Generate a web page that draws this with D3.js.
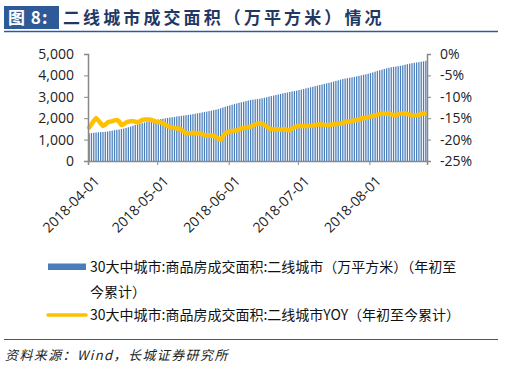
<!DOCTYPE html>
<html>
<head>
<meta charset="utf-8">
<script src="https://cdn.jsdelivr.net/npm/d3@7"></script>
<style>
  body { margin: 0; background: #fff; }
  svg { display: block; font-family: "Noto Sans CJK SC", "Noto Sans", sans-serif; }
  .axis text { font-family: "Open Sans", "Noto Sans", sans-serif; font-size: 14px; fill: #222; }
  .axis path, .axis line { stroke: #888; }
</style>
</head>
<body>
<div id="chart"></div>
<script>
var startDate = "2018-04-01";
var monthTicks = ["2018-04-01", "2018-05-01", "2018-06-01", "2018-07-01", "2018-08-01"];
var leftTicks = [0, 1000, 2000, 3000, 4000, 5000];
var rightTicks = [-25, -20, -15, -10, -5, 0];

// cumulative area since start of year, 10k sqm (one bar per day)
var area = [
  1290, 1305, 1320, 1330, 1340, 1350, 1355, 1365, 1380, 1400,
  1420, 1440, 1455, 1470, 1495, 1520, 1545, 1580, 1610, 1650,
  1690, 1715, 1740, 1770, 1800, 1830, 1855, 1880, 1900, 1920,
  1940, 1955, 1975, 1990, 2010, 2030, 2045, 2060, 2080, 2095,
  2110, 2125, 2140, 2155, 2170, 2190, 2210, 2230, 2250, 2270,
  2290, 2310, 2330, 2355, 2380, 2400, 2430, 2465, 2500, 2535,
  2570, 2600, 2630, 2660, 2690, 2720, 2745, 2770, 2800, 2825,
  2850, 2865, 2880, 2895, 2910, 2930, 2955, 2980, 3010, 3035,
  3060, 3085, 3110, 3135, 3160, 3180, 3200, 3225, 3250, 3270,
  3290, 3315, 3340, 3365, 3395, 3420, 3445, 3470, 3500, 3525,
  3550, 3575, 3600, 3630, 3655, 3680, 3710, 3740, 3770, 3800,
  3830, 3850, 3870, 3890, 3910, 3930, 3955, 3980, 4005, 4030,
  4050, 4080, 4110, 4140, 4175, 4210, 4240, 4270, 4300, 4330,
  4360, 4380, 4395, 4415, 4430, 4450, 4475, 4500, 4525, 4550,
  4570, 4590, 4605, 4620, 4640, 4660, 4680
];

// YOY, %
var yoy = [
  -17.2, -16.4, -15.6, -15.0, -15.5, -16.2, -16.8, -16.5, -16.0, -15.8,
  -15.7, -15.5, -15.4, -15.8, -16.6, -16.4, -16.0, -15.8, -15.7, -15.7,
  -15.8, -16.0, -15.7, -15.4, -15.3, -15.3, -15.3, -15.4, -15.6, -15.8,
  -15.9, -16.0, -16.2, -16.5, -16.8, -17.1, -17.2, -17.3, -17.4, -17.4,
  -17.7, -18.1, -18.5, -18.5, -18.5, -18.4, -18.5, -18.6, -18.5, -18.7,
  -19.0, -19.1, -19.0, -19.1, -19.1, -19.4, -19.8, -20.1, -19.3, -18.5,
  -18.3, -18.1, -18.0, -17.9, -17.9, -17.6, -17.4, -17.3, -17.2, -17.1,
  -17.0, -16.7, -16.5, -16.3, -16.2, -16.3, -16.6, -17.0, -17.4, -17.5,
  -17.6, -17.6, -17.6, -17.7, -17.5, -17.6, -17.8, -17.8, -17.4, -17.1,
  -16.9, -16.8, -16.8, -16.8, -16.8, -16.9, -16.8, -16.7, -16.6, -16.5,
  -16.4, -16.5, -16.6, -16.6, -16.6, -16.5, -16.4, -16.4, -16.3, -16.3,
  -16.1, -15.9, -15.8, -15.8, -15.7, -15.5, -15.4, -15.4, -15.0, -15.0,
  -14.9, -14.8, -14.6, -14.5, -14.4, -14.2, -14.0, -13.9, -13.9, -14.0,
  -13.9, -14.1, -14.3, -14.3, -14.1, -13.9, -13.9, -13.9, -14.0, -14.2,
  -14.3, -14.3, -14.3, -14.2, -14.0, -13.9, -13.9
];

var barName = "30大中城市:商品房成交面积:二线城市（万平方米）（年初至";
var barName2 = "今累计）";
var lineName = "30大中城市:商品房成交面积:二线城市YOY（年初至今累计）";

(function() {
  var width = 511, height = 372;
  var pad = { top: 54, bottom: 161, left: 88, right: 427 };
  var parse = d3.timeParse("%Y-%m-%d");
  var fmtDay = d3.timeFormat("%Y-%m-%d");

  var days = area.map(function(d, i) {
    return d3.timeDay.offset(parse(startDate), i);
  });

  var svg = d3.select("#chart").append("svg")
    .attr("width", width)
    .attr("height", height);

  // title
  svg.append("rect")
    .attr("x", 4).attr("y", 6).attr("width", 55).attr("height", 23)
    .attr("fill", "#2F5A98");
  svg.append("text")
    .attr("x", 8).attr("y", 24)
    .attr("fill", "#fff")
    .attr("font-size", 17).attr("font-weight", "bold")
    .attr("letter-spacing", 1)
    .text("图 8:");
  svg.append("text")
    .attr("x", 63).attr("y", 24)
    .attr("fill", "#1F3864")
    .attr("font-size", 17).attr("font-weight", "bold")
    .attr("letter-spacing", 3.1)
    .text("二线城市成交面积（万平方米）情况");
  svg.append("line")
    .attr("x1", 4).attr("x2", 498).attr("y1", 31.5).attr("y2", 31.5)
    .attr("stroke", "#2F5A98").attr("stroke-width", 1.5);

  var x = d3.scaleTime()
    .domain([days[0], d3.timeDay.offset(days[days.length - 1], 1)])
    .range([pad.left, pad.right]);
  var yL = d3.scaleLinear().domain([0, 5000]).range([pad.bottom, pad.top]);
  var yR = d3.scaleLinear().domain([-25, 0]).range([pad.bottom, pad.top]);

  var dayW = x(days[1]) - x(days[0]);

  svg.append("g")
    .selectAll("rect")
    .data(area)
    .enter().append("rect")
    .attr("x", function(d, i) { return x(days[i]) + dayW * 0.22; })
    .attr("y", function(d) { return yL(d); })
    .attr("width", dayW * 0.55)
    .attr("height", function(d) { return yL(0) - yL(d); })
    .attr("fill", "#4A7EBB");

  var line = d3.line()
    .x(function(d, i) { return x(days[i]) + dayW / 2; })
    .y(function(d) { return yR(d); })
    .curve(d3.curveLinear);
  svg.append("path")
    .datum(yoy)
    .attr("d", line)
    .attr("fill", "none")
    .attr("stroke", "#FFC000")
    .attr("stroke-width", 4.5)
    .attr("stroke-linejoin", "round")
    .attr("stroke-linecap", "round");

  // axes
  var gl = svg.append("g").attr("class", "axis")
    .attr("transform", "translate(" + pad.left + ",0)")
    .call(d3.axisLeft(yL).tickValues(leftTicks).tickSize(4).tickPadding(10)
      .tickFormat(d3.format(",")));
  var gr = svg.append("g").attr("class", "axis")
    .attr("transform", "translate(" + pad.right + ",0)")
    .call(d3.axisRight(yR).tickValues(rightTicks).tickSize(4).tickPadding(9)
      .tickFormat(function(d) { return d + "%"; }));
  var gx = svg.append("g").attr("class", "axis")
    .attr("transform", "translate(0," + pad.bottom + ")")
    .call(d3.axisBottom(x).tickValues(monthTicks.map(parse)).tickSize(4)
      .tickFormat(fmtDay));
  gx.selectAll("text")
    .attr("font-size", 14)
    .attr("text-anchor", "end")
    .attr("dy", 0)
    .attr("transform", "translate(7,16) rotate(-45)");
  [gl, gr, gx].forEach(function(g) {
    g.select(".domain").attr("stroke", "#888").attr("stroke-width", 1.5);
  });

  // legend
  var lg = svg.append("g").attr("font-size", 14).attr("fill", "#111");
  lg.append("rect")
    .attr("x", 48).attr("y", 263.5).attr("width", 38).attr("height", 6.5)
    .attr("fill", "#4A7EBB");
  lg.append("text").attr("x", 90).attr("y", 272).text(barName);
  lg.append("text").attr("x", 90).attr("y", 297).text(barName2);
  lg.append("line")
    .attr("x1", 48).attr("x2", 86).attr("y1", 315).attr("y2", 315)
    .attr("stroke", "#FFC000").attr("stroke-width", 3.5)
    .attr("stroke-linecap", "round");
  lg.append("text").attr("x", 90).attr("y", 320).text(lineName);

  svg.append("line")
    .attr("x1", 4).attr("x2", 498).attr("y1", 339.5).attr("y2", 339.5)
    .attr("stroke", "#2F5A98").attr("stroke-width", 1.2);
  svg.append("text")
    .attr("x", 5).attr("y", 360)
    .attr("font-size", 13).attr("font-style", "italic").attr("fill", "#222")
    .attr("letter-spacing", 1.4)
    .text("资料来源：Wind，长城证券研究所");
})();
</script>
</body>
</html>
